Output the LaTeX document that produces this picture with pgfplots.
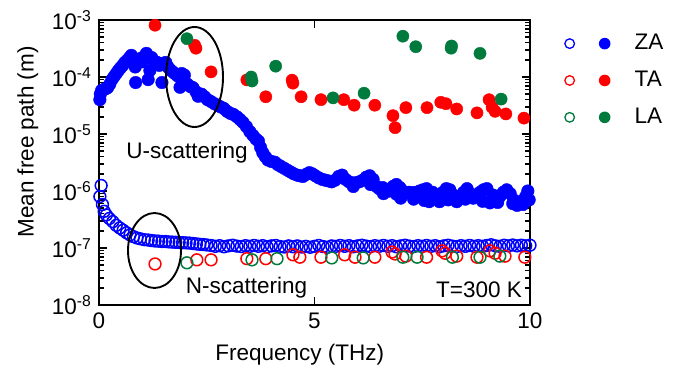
\documentclass[border=0pt]{standalone}
\usepackage{pgfplots}
\pgfplotsset{compat=1.18}
\usepackage{fontspec}
\setmainfont{Liberation Sans}
\definecolor{zab}{RGB}{0,0,255}
\definecolor{tar}{RGB}{255,0,0}
\definecolor{lag}{RGB}{0,122,61}
\begin{document}
\fontsize{22.5}{27}\selectfont
\begin{tikzpicture}
\useasboundingbox (0,0) rectangle (681pt,381pt);
\begin{axis}[
  at={(99pt,76pt)}, anchor=south west,
  scale only axis, width=431pt, height=285pt,
  xmin=0, xmax=10, ymode=log, log basis y=10, ymin=1e-8, ymax=1e-3,
  xtick={0,5,10}, xticklabels={0,5,10},
  ytick={1e-8,1e-7,1e-6,1e-5,1e-4,1e-3},
  yticklabels={10\textsuperscript{-8},10\textsuperscript{-7},10\textsuperscript{-6},10\textsuperscript{-5},10\textsuperscript{-4},10\textsuperscript{-3}},
  minor ytick={2e-8,3e-8,4e-8,5e-8,6e-8,7e-8,8e-8,9e-8,2e-7,3e-7,4e-7,5e-7,6e-7,7e-7,8e-7,9e-7,2e-6,3e-6,4e-6,5e-6,6e-6,7e-6,8e-6,9e-6,2e-5,3e-5,4e-5,5e-5,6e-5,7e-5,8e-5,9e-5,2e-4,3e-4,4e-4,5e-4,6e-4,7e-4,8e-4,9e-4},
  tick align=inside, major tick length=8pt, minor tick length=5pt,
  every tick/.style={black, line width=1.6pt},
  axis line style={line width=2.1pt},
  ticklabel style={font=\fontsize{22.5}{27}\selectfont},
  xlabel={Frequency (THz)}, ylabel={Mean free path (m)},
  label style={font=\fontsize{22.5}{27}\selectfont},
  xlabel style={at={(axis description cs:0.466,-0.175)}, anchor=center},
  ylabel style={at={(axis description cs:-0.165,0.572)}, anchor=center},
  legend style={at={(axis description cs:1.072,0.965)}, anchor=north west, draw=none, fill=none, row sep=14pt, font=\fontsize{22.5}{27}\selectfont},
  legend cell align=left,
]
\addlegendimage{legend image code/.code={\draw[zab,line width=1.3pt,fill=none] (5pt,0pt) circle (4.8pt); \fill[zab,draw=none] (40pt,0pt) circle (5.8pt); \path[draw=none,fill=none] (0pt,-6pt) rectangle (68pt,6pt);}}
\addlegendentry{ZA}
\addlegendimage{legend image code/.code={\draw[tar,line width=1.3pt,fill=none] (5pt,0pt) circle (4.8pt); \fill[tar,draw=none] (40pt,0pt) circle (5.8pt); \path[draw=none,fill=none] (0pt,-6pt) rectangle (68pt,6pt);}}
\addlegendentry{TA}
\addlegendimage{legend image code/.code={\draw[lag,line width=1.3pt,fill=none] (5pt,0pt) circle (4.8pt); \fill[lag,draw=none] (40pt,0pt) circle (5.8pt); \path[draw=none,fill=none] (0pt,-6pt) rectangle (68pt,6pt);}}
\addlegendentry{LA}

% ZA U-scattering (filled)
\addplot[forget plot, only marks, mark=*, mark size=6.3pt, color=zab] coordinates {
(0.02,4.0e-5)(0.03,5.0e-5)(0.06,5.8e-5)(0.1,6.0e-5)(0.15,6.2e-5)(0.2,6.5e-5)(0.25,7.5e-5)(0.3,9e-5)(0.35,1.02e-4)(0.4,1.15e-4)
(0.45,1.3e-4)(0.5,1.45e-4)(0.55,1.6e-4)(0.6,1.8e-4)(0.65,1.95e-4)(0.7,2.15e-4)(0.75,2.4e-4)(0.8,2.1e-4)(0.84,1.5e-4)(0.85,8.0e-5)
(0.9,1.9e-4)(0.95,2.1e-4)(1.0,1.85e-4)(1.05,2.3e-4)(1.1,2.6e-4)(1.14,9e-5)(1.18,1.3e-4)(1.22,2.2e-4)(1.28,1.9e-4)(1.35,1.8e-4)
(1.4,1.6e-4)(1.46,8e-5)(1.5,1.75e-4)(1.55,1.8e-4)(1.6,1.5e-4)(1.65,1.35e-4)(1.7,1.25e-4)(1.76,1.15e-4)(1.82,1.05e-4)(1.88,6.6e-5)
(1.92,1.15e-4)(1.98,1.08e-4)(2.05,7.5e-5)(2.12,6.8e-5)(2.18,6.5e-5)(2.25,5.5e-5)(2.3,4.6e-5)(2.38,5.0e-5)(2.45,4.5e-5)(2.52,4.0e-5)
(2.6,3.7e-5)(2.68,3.4e-5)(2.75,3.2e-5)(2.82,3.0e-5)(2.9,2.8e-5)(2.97,2.5e-5)(3.05,2.3e-5)(3.12,2.2e-5)(3.2,2.0e-5)(3.27,1.8e-5)
(3.34,1.6e-5)(3.42,1.35e-5)(3.5,1.1e-5)(3.57,9.5e-6)(3.64,8.2e-6)(3.7,7.5e-6)(3.75,5.8e-6)(3.8,4.7e-6)(3.86,4.0e-6)(3.92,3.5e-6)
(4.0,3.3e-6)(4.08,3.2e-6)(4.15,2.9e-6)(4.22,2.7e-6)(4.3,2.5e-6)(4.38,2.3e-6)(4.45,2.15e-6)(4.52,2.0e-6)(4.6,1.9e-6)(4.66,1.85e-6)
(4.73,1.8e-6)(4.8,1.95e-6)(4.88,2.1e-6)(4.95,2.0e-6)(5.02,1.85e-6)(5.1,1.7e-6)(5.18,1.6e-6)(5.25,1.55e-6)(5.33,1.5e-6)(5.4,1.45e-6)
(5.48,1.55e-6)(5.56,1.8e-6)(5.64,1.9e-6)(5.72,1.6e-6)(5.8,1.45e-6)(5.88,1.38e-6)(5.96,1.4e-6)(6.04,1.45e-6)(6.12,1.55e-6)(6.2,1.75e-6)
(6.28,1.85e-6)(6.36,1.6e-6)(6.44,1.2e-6)(6.5,1.1e-6)(6.58,1.15e-6)(6.66,1.05e-6)(6.74,1.0e-6)(6.82,1.2e-6)(6.9,1.3e-6)(6.98,1.15e-6)
(7.05,1.0e-6)(7.12,9.2e-7)(7.2,9.5e-7)(7.28,9.3e-7)(7.36,9.5e-7)(7.44,1.0e-6)(7.52,1.05e-6)(7.6,1.1e-6)(7.66,6.5e-7)(7.74,9.5e-7)
(7.82,8.5e-7)(7.9,8.0e-7)(7.98,9.5e-7)(8.06,1.1e-6)(8.14,1.05e-6)(8.22,8.5e-7)(8.3,6.5e-7)(8.38,8.0e-7)(8.46,9.5e-7)(8.54,1.1e-6)
(8.62,9e-7)(8.68,7.5e-7)(8.76,8.0e-7)(8.84,9.5e-7)(8.92,1.05e-6)(9.0,1.1e-6)(9.07,6.2e-7)(9.14,8.5e-7)(9.22,7.5e-7)(9.3,8.0e-7)
(9.38,9.5e-7)(9.46,1.05e-6)(9.54,9e-7)(9.62,7e-7)(9.7,5.6e-7)(9.78,6.5e-7)(9.84,5.8e-7)(9.9,8e-7)(9.95,1.0e-6)
(7.0,7.5e-7)(7.3,7.2e-7)(7.55,6.8e-7)(7.9,6.5e-7)(8.1,7e-7)(8.5,7.2e-7)(8.9,6.6e-7)(9.25,6.3e-7)(9.6,6.0e-7)(9.98,7e-7)
(5.9,1.2e-6)(6.3,1.3e-6)(6.6,9e-7)(6.9,8.8e-7)
};
% ZA N-scattering (open)
\addplot[forget plot, only marks, mark=o, mark size=5.9pt, mark options={line width=1.5pt}, color=zab] coordinates {
(0.05,1.25e-6)(0.02,8.0e-7)(0.08,5.8e-7)(0.12,4.4e-7)(0.17,3.8e-7)(0.24,3.3e-7)(0.32,2.9e-7)(0.40,2.5e-7)(0.48,2.25e-7)(0.56,2.05e-7)
(0.64,1.85e-7)(0.72,1.7e-7)(0.80,1.58e-7)(0.88,1.5e-7)(0.96,1.45e-7)(1.05,1.4e-7)(1.14,1.38e-7)(1.22,1.35e-7)(1.3,1.33e-7)(1.38,1.32e-7)
(1.46,1.3e-7)(1.54,1.3e-7)(1.62,1.28e-7)(1.7,1.27e-7)(1.78,1.26e-7)(1.86,1.25e-7)(1.94,1.24e-7)(2.02,1.23e-7)(2.1,1.22e-7)(2.18,1.2e-7)
(2.26,1.18e-7)(2.34,1.16e-7)(2.42,1.15e-7)(2.5,1.13e-7)
(2.6,1.11e-7)(2.7,1.07e-7)(2.8,1.10e-7)(2.9,1.05e-7)(3.0,1.09e-7)(3.1,1.12e-7)(3.2,1.08e-7)(3.3,1.06e-7)(3.4,1.10e-7)(3.5,1.07e-7)
(3.6,1.11e-7)(3.7,1.07e-7)(3.8,1.10e-7)(3.9,1.05e-7)(4.0,1.09e-7)(4.1,1.11e-7)(4.2,1.06e-7)(4.3,1.04e-7)(4.4,1.09e-7)(4.5,1.05e-7)
(4.6,1.09e-7)(4.7,1.04e-7)(4.8,1.07e-7)(4.9,1.03e-7)(5.0,1.07e-7)(5.1,1.11e-7)(5.2,1.06e-7)(5.3,1.03e-7)(5.4,1.09e-7)(5.5,1.07e-7)
(5.6,1.11e-7)(5.7,1.07e-7)(5.8,1.10e-7)(5.9,1.05e-7)(6.0,1.09e-7)(6.1,1.12e-7)(6.2,1.08e-7)(6.3,1.06e-7)(6.4,1.10e-7)(6.5,1.07e-7)
(6.6,1.11e-7)(6.7,1.07e-7)(6.8,1.10e-7)(6.9,1.05e-7)(7.0,1.09e-7)(7.1,1.12e-7)(7.2,1.08e-7)(7.3,1.06e-7)(7.4,1.10e-7)(7.5,1.07e-7)
(7.6,1.11e-7)(7.7,1.07e-7)(7.8,1.10e-7)(7.9,1.05e-7)(8.0,1.09e-7)(8.1,1.12e-7)(8.2,1.08e-7)(8.3,1.06e-7)(8.4,1.10e-7)(8.5,1.07e-7)
(8.6,1.11e-7)(8.7,1.07e-7)(8.8,1.10e-7)(8.9,1.07e-7)(9.0,1.11e-7)(9.1,1.14e-7)(9.2,1.09e-7)(9.3,1.07e-7)(9.4,1.12e-7)(9.5,1.09e-7)
(9.6,1.13e-7)(9.7,1.09e-7)(9.8,1.12e-7)(9.9,1.09e-7)(10.0,1.12e-7)
};
% TA U (filled)
\addplot[forget plot, only marks, mark=*, mark size=6.1pt, color=tar] coordinates {
(1.3,8.1e-4)(2.25,3.2e-4)(2.22,3.6e-4)(2.6,1.23e-4)(3.43,8.9e-5)(3.87,4.5e-5)(4.5,7.8e-5)(4.48,8.8e-5)(4.69,4.5e-5)(5.15,4.0e-5)
(5.68,4.0e-5)(5.92,3.2e-5)(6.4,3.2e-5)(6.82,2.1e-5)(6.87,1.29e-5)(7.12,2.9e-5)(7.61,2.9e-5)(7.93,3.6e-5)(8.05,3.4e-5)(8.3,2.75e-5)
(8.77,2.35e-5)(9.05,4.0e-5)(9.12,2.95e-5)(9.19,2.5e-5)(9.44,2.25e-5)(9.86,1.9e-5)
};
% TA N (open)
\addplot[forget plot, only marks, mark=o, mark size=5.9pt, mark options={line width=1.5pt}, color=tar] coordinates {
(1.3,5.25e-8)(2.27,6.2e-8)(2.6,6.2e-8)(3.43,6.5e-8)(3.87,6.5e-8)(4.5,7.6e-8)(4.66,6.9e-8)(5.15,6.9e-8)(5.7,7.6e-8)(5.94,6.9e-8)
(6.4,6.9e-8)(6.8,8.5e-8)(6.87,7.85e-8)(7.12,7.2e-8)(7.6,6.9e-8)(7.96,8.9e-8)(8.03,8.1e-8)(8.3,7.2e-8)(8.77,6.9e-8)(9.07,8.9e-8)
(9.19,8.1e-8)(9.42,7.2e-8)(9.88,6.9e-8)
};
% LA U (filled)
\addplot[forget plot, only marks, mark=*, mark size=6.1pt, color=lag] coordinates {
(2.04,4.7e-4)(3.53,1.0e-4)(3.55,8.5e-5)(4.1,1.55e-4)(5.43,4.3e-5)(6.15,5.2e-5)(7.05,5.2e-4)(7.35,3.4e-4)(8.17,3.2e-4)(8.18,3.5e-4)
(8.84,2.6e-4)(9.33,4.1e-5)
};
% LA N (open)
\addplot[forget plot, only marks, mark=o, mark size=5.9pt, mark options={line width=1.5pt}, color=lag] coordinates {
(2.04,5.5e-8)(3.55,6.2e-8)(4.13,6.5e-8)(5.4,6.7e-8)(6.13,6.7e-8)(7.05,6.9e-8)(7.38,6.9e-8)(8.2,6.9e-8)(8.84,6.9e-8)(9.3,7.2e-8)
};
\end{axis}
\draw[black, line width=1.9pt] (194.5pt,304pt) ellipse [x radius=28.5pt, y radius=50pt];
\draw[black, line width=1.9pt] (154.5pt,130.5pt) ellipse [x radius=26.5pt, y radius=37.5pt];
\node at (187pt,228pt) {U-scattering};
\node at (246.5pt,93pt) {N-scattering};
\node at (479pt,91pt) {T=300 K};
\end{tikzpicture}
\end{document}
